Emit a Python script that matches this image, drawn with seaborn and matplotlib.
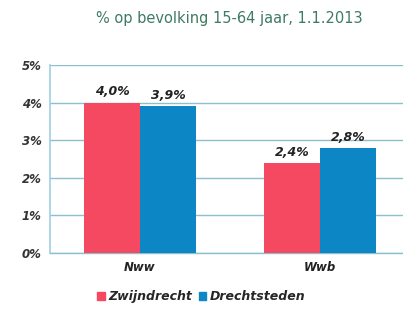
import pandas as pd
import matplotlib.pyplot as plt
import seaborn as sns

categories = ["Nww", "Wwb"]
series = ["Zwijndrecht", "Drechtsteden"]
zwijndrecht = [4.0, 2.4]
drechtsteden = [3.9, 2.8]
ticks = [0, 1, 2, 3, 4, 5]

df = pd.DataFrame({
    "cat": categories * 2,
    "gebied": [series[0]] * 2 + [series[1]] * 2,
    "pct": zwijndrecht + drechtsteden,
})

sns.set_style("white")
plt.rcParams['font.family'] = ['DejaVu Sans']

fig = plt.figure(figsize=(4.03, 3.10), dpi=100)
ax = fig.add_axes([50 / 403, 57 / 310, 360 / 403, 188 / 310])

colors = {"Zwijndrecht": "#f54961", "Drechtsteden": "#0d86c6"}
sns.barplot(data=df, x="cat", y="pct", hue="gebied", palette=colors,
            width=0.62, gap=0, saturation=1, ax=ax, legend=False, zorder=3,
            linewidth=0, edgecolor="none")

ax.set_ylim(0, 5)
ax.set_yticks(ticks)
ax.set_yticklabels([f"{t}%" for t in ticks], fontsize=8.5, fontweight="bold",
                   fontstyle="italic", color="#333333")
ax.set_xticklabels(categories, fontsize=8.5, fontweight="bold",
                   fontstyle="italic", color="#222222")
ax.set_xlabel("")
ax.set_ylabel("")
ax.grid(axis="y", color="#8cbfd0", linewidth=1.0, zorder=0)
for s in ["top", "right"]:
    ax.spines[s].set_visible(False)
ax.spines["left"].set_color("#9fd0e0")
ax.spines["left"].set_linewidth(1.2)
ax.spines["bottom"].set_color("#8cbfd0")
ax.spines["bottom"].set_linewidth(1.0)
ax.tick_params(axis="both", length=0, pad=6)

for cont in ax.containers:
    labels = [f"{v:.1f}%".replace(".", ",") for v in cont.datavalues]
    ax.bar_label(cont, labels=labels, padding=3, fontsize=9,
                 fontweight="bold", fontstyle="italic", color="#222222")

fig.text(0.57, 0.94, "% op bevolking 15-64 jaar, 1.1.2013", ha="center",
         va="center", fontsize=10.5, color="#3f7a62")

handles = [plt.Rectangle((0, 0), 1, 1, color=colors[s]) for s in series]
leg = fig.legend(handles, series, loc="center", bbox_to_anchor=(0.5, 0.042),
                 ncol=2, frameon=False, handlelength=0.6, handleheight=0.6,
                 handletextpad=0.3, columnspacing=0.5,
                 prop={"weight": "bold", "style": "italic", "size": 9})

fig.savefig("out.png", dpi=100)
